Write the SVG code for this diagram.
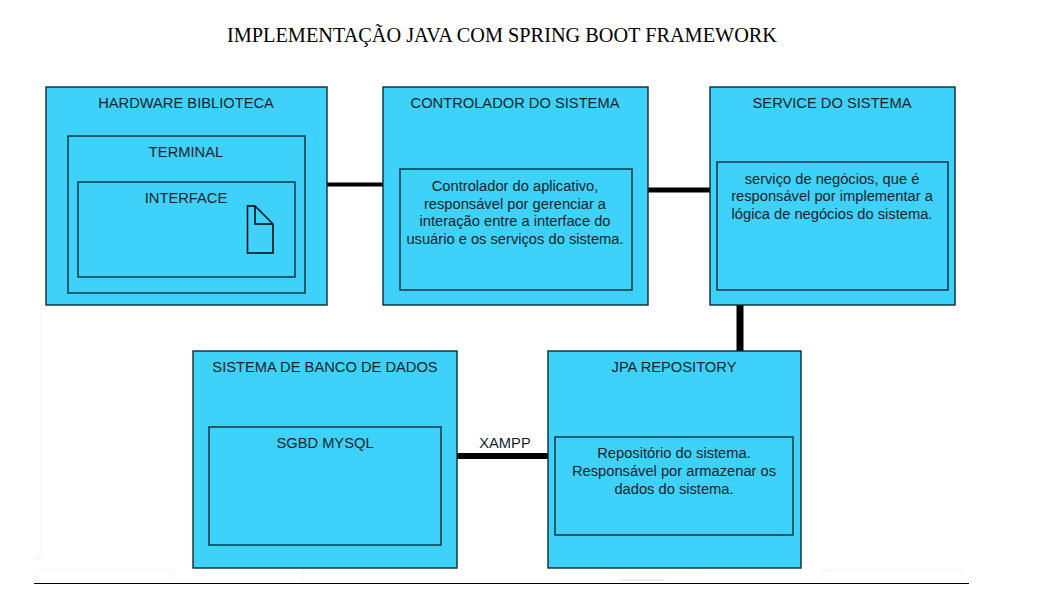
<svg xmlns="http://www.w3.org/2000/svg" width="1050" height="605" viewBox="0 0 1050 605">
<style>
.b{fill:#3ed1f9;stroke:#0c2a33;stroke-width:1.4}
.t{font-family:"Liberation Sans",Arial,sans-serif;font-size:14.7px;fill:#14242a;text-anchor:middle}
.c{stroke:#000;fill:none}
.f{fill:none;stroke:#f4f4f4;stroke-width:1}
</style>
<rect width="1050" height="605" fill="#fff"/>
<path class="f" d="M34 82Q41 82 41 88V552Q41 559 34 560"/>
<path class="f" d="M34 570H168Q173 570 173 575V582M303 570V582M622 570H690M822 582V575Q822 570 827 570H964"/>
<line x1="620" y1="580" x2="665" y2="580" stroke="#ddd" stroke-width="1"/>
<text x="502" y="42" text-anchor="middle" font-family="Liberation Serif,serif" font-size="20.300px" fill="#000">IMPLEMENTAÇÃO JAVA COM SPRING BOOT FRAMEWORK</text>
<g id="connectors">
<line class="c" x1="327" y1="184.500" x2="383" y2="184.500" stroke-width="4"/>
<line class="c" x1="648" y1="190" x2="710" y2="190" stroke-width="5"/>
<line class="c" x1="740" y1="305" x2="740" y2="351" stroke-width="7"/>
<line class="c" x1="457" y1="456" x2="548" y2="456" stroke-width="6"/>
<line x1="34" y1="583.500" x2="969" y2="583.500" stroke="#000" stroke-width="1"/>
</g>
<g id="hardware"><rect class="b" x="46" y="87" width="281" height="218"/><text class="t" x="186" y="108">HARDWARE BIBLIOTECA</text></g>
<g id="terminal"><rect class="b" x="68" y="136" width="237" height="157"/><text class="t" x="186" y="157">TERMINAL</text></g>
<g id="interface"><rect class="b" x="78" y="182" width="217" height="95"/><text class="t" x="186" y="203">INTERFACE</text>
<path d="M247.500 206H255L273 224V253H247.500Z M255 206V224H273" fill="none" stroke="#000" stroke-width="1.500"/></g>
<g id="controlador"><rect class="b" x="383" y="87" width="265" height="218"/><text class="t" x="515" y="108">CONTROLADOR DO SISTEMA</text></g>
<g id="controlador-desc"><rect class="b" x="400" y="169" width="232" height="121"/>
<text class="t" x="515" y="191">Controlador do aplicativo,</text><text class="t" x="515" y="209">responsável por gerenciar a</text><text class="t" x="515" y="226">interação entre a interface do</text><text class="t" x="515" y="244">usuário e os serviços do sistema.</text></g>
<g id="service"><rect class="b" x="710" y="87" width="245" height="218"/><text class="t" x="832" y="108">SERVICE DO SISTEMA</text></g>
<g id="service-desc"><rect class="b" x="717" y="162" width="231" height="128"/>
<text class="t" x="832" y="184">serviço de negócios, que é</text><text class="t" x="832" y="201">responsável por implementar a</text><text class="t" x="832" y="219">lógica de negócios do sistema.</text></g>
<g id="banco"><rect class="b" x="193" y="351" width="264" height="217"/><text class="t" x="325" y="372">SISTEMA DE BANCO DE DADOS</text></g>
<g id="sgbd"><rect class="b" x="209" y="427" width="232" height="118"/><text class="t" x="325" y="448">SGBD MYSQL</text></g>
<g id="jpa"><rect class="b" x="548" y="351" width="253" height="217"/><text class="t" x="674" y="372">JPA REPOSITORY</text></g>
<g id="jpa-desc"><rect class="b" x="555" y="437" width="238" height="98"/>
<text class="t" x="674" y="458">Repositório do sistema.</text><text class="t" x="674" y="476">Responsável por armazenar os</text><text class="t" x="674" y="494">dados do sistema.</text></g>
<text class="t" x="505" y="448">XAMPP</text>
</svg>
